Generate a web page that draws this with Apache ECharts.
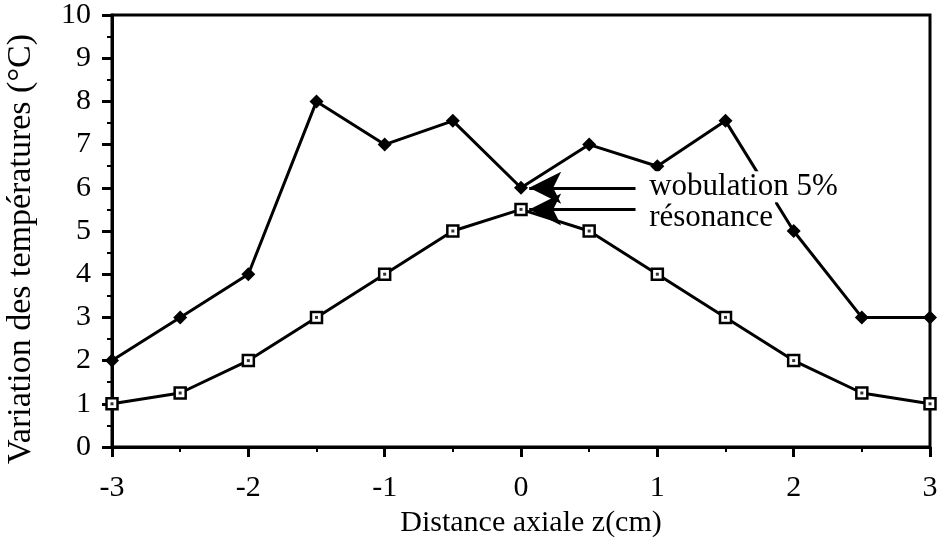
<!DOCTYPE html>
<html><head><meta charset="utf-8">
<script src="https://cdn.jsdelivr.net/npm/echarts@6/dist/echarts.min.js"></script>
<style>html,body{margin:0;padding:0;background:#fff}#c{width:943px;height:538px}</style>
</head><body><div id="c"></div>
<script>
const xPositions = [-3, -2.5, -2, -1.5, -1, -0.5, 0, 0.5, 1, 1.5, 2, 2.5, 3];
const wobulation = [2, 3, 4, 8, 7, 7.55, 6, 7, 6.5, 7.55, 5, 3, 3];
const resonance = [1, 1.25, 2, 3, 4, 5, 5.5, 5, 4, 3, 2, 1.25, 1];
const xAxisTitle = 'Distance axiale z(cm)';
const yAxisTitle = 'Variation des températures (°C)';
const annotationTexts = ['wobulation 5%', 'résonance'];
const annotationY = [6, 5.5];
const annotationTextX = 0.94;
const arrowStartX = 0.84;
const arrowTipX = 0.06;

const FONT = "'Liberation Serif', 'DejaVu Serif', serif";
const pair = (xs, ys) => xs.map((x, i) => [x, ys[i]]);
const textShift = [-1, 8];

const chart = echarts.init(document.getElementById('c'), null, {renderer: 'canvas'});
const axisCommon = {
  axisLine: {show: true, onZero: false, lineStyle: {color: '#000', width: 3}},
  axisTick: {show: true, inside: false, length: 10, lineStyle: {color: '#000', width: 3}},
  minorTick: {show: true, splitNumber: 2, length: 5, lineStyle: {color: '#000', width: 2}},
  splitLine: {show: false},
  axisLabel: {color: '#000', fontFamily: FONT, fontSize: 30},
  nameTextStyle: {color: '#000', fontFamily: FONT, fontSize: 30}
};
const option = {
  backgroundColor: '#fff',
  animation: false,
  grid: {left: 112, right: 13, top: 15, bottom: 91, containLabel: false, outerBoundsMode: 'none',
         show: true, borderColor: '#000', borderWidth: 3, backgroundColor: 'transparent'},
  xAxis: Object.assign({}, axisCommon, {
    type: 'value', min: -3, max: 3, interval: 1,
    name: xAxisTitle, nameLocation: 'middle', nameGap: 49,
    axisLabel: Object.assign({}, axisCommon.axisLabel, {margin: 26}),
    nameTextStyle: Object.assign({}, axisCommon.nameTextStyle, {fontSize: 30, padding: [0, 0, 0, 20]})
  }),
  yAxis: Object.assign({}, axisCommon, {
    type: 'value', min: 0, max: 10, interval: 1,
    name: yAxisTitle, nameLocation: 'middle', nameGap: 74,
    axisLabel: Object.assign({}, axisCommon.axisLabel, {margin: 21}),
    nameTextStyle: Object.assign({}, axisCommon.nameTextStyle, {fontSize: 34, padding: [0, 36, 0, 0]})
  }),
  series: [
    {
      name: 'wobulation 5%', type: 'line', data: pair(xPositions, wobulation),
      symbol: 'diamond', symbolSize: 14, showAllSymbol: true,
      lineStyle: {color: '#000', width: 3}, itemStyle: {color: '#000'}, z: 3,
      markLine: {
        silent: true, symbol: ['none', 'arrow'], symbolSize: [24, 32],
        lineStyle: {color: '#000', width: 3, type: 'solid'}, label: {show: false},
        data: annotationY.map(y => [{coord: [arrowStartX, y]}, {coord: [arrowTipX, y]}])
      }
    },
    {
      name: 'résonance', type: 'line', data: pair(xPositions, resonance),
      symbol: 'rect', symbolSize: 11, showAllSymbol: true,
      lineStyle: {color: '#000', width: 3}, itemStyle: {color: '#fff', borderColor: '#000', borderWidth: 2.5}, z: 3
    },
    {
      name: 'résonance-dot', type: 'scatter', data: pair(xPositions, resonance),
      symbol: 'rect', symbolSize: 3, itemStyle: {color: '#000'}, z: 4, silent: true
    }
  ]
};
chart.setOption(option);

const graphics = annotationTexts.map((t, i) => {
  const p = chart.convertToPixel({gridIndex: 0}, [annotationTextX, annotationY[i]]);
  return {
    type: 'text', x: p[0], y: p[1] + textShift[i], z: 100,
    style: {text: t, fill: '#000', font: "31px " + FONT, textVerticalAlign: 'middle', textAlign: 'left',
            backgroundColor: '#fff', padding: [0, 2, 0, 0]}
  };
});
chart.setOption({graphic: graphics});
</script>
</body></html>
